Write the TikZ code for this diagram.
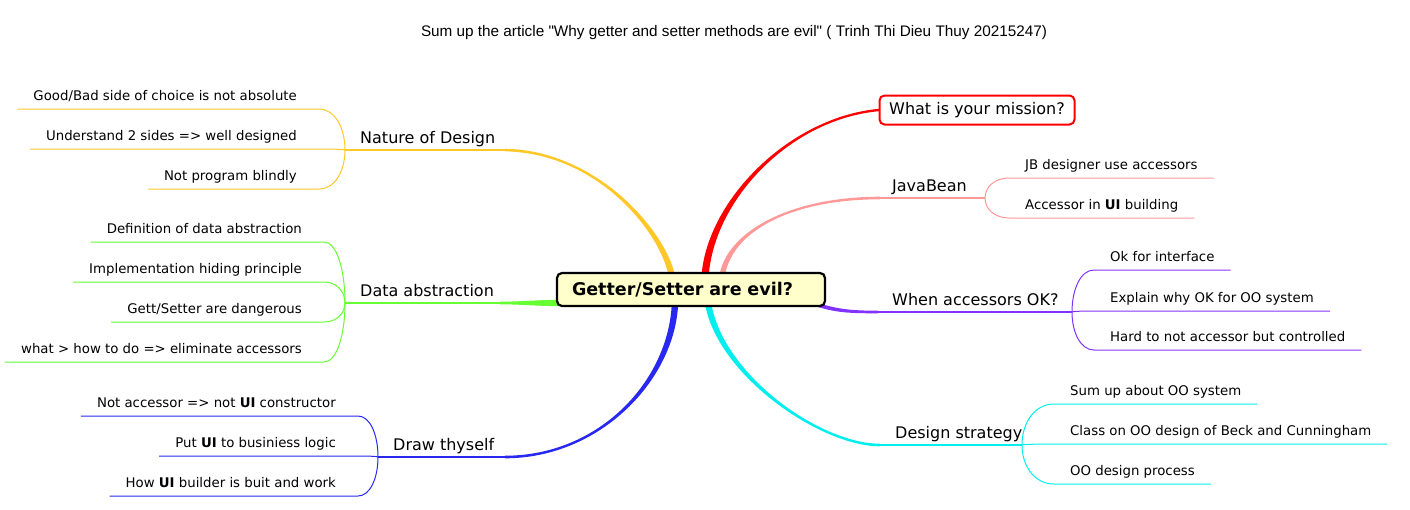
\documentclass[tikz,border=0pt]{standalone}
\usepackage{fontspec}
\setmainfont{DejaVu Sans}
\newfontfamily\titlefont[Ligatures=TeXOff]{Liberation Sans}
\usetikzlibrary{calc}
\definecolor{cY}{RGB}{255,200,40}
\definecolor{cR}{RGB}{255,0,0}
\definecolor{cP}{RGB}{255,153,153}
\definecolor{cV}{RGB}{130,50,255}
\definecolor{cC}{RGB}{0,238,238}
\definecolor{cG}{RGB}{102,255,51}
\definecolor{cB}{RGB}{40,40,240}
\definecolor{cbox}{RGB}{255,255,204}
% tapered main branch: colour, start, c1, c2, end, start offset, end offset
\newcommand\taperbranch[7]{%
  \fill[#1] ($(#2)+(#6)$) .. controls ($(#3)+(#6)$) and ($(#4)+(#7)$) .. ($(#5)+(#7)$)
    -- ($(#5)-(#7)$) .. controls ($(#4)-(#7)$) and ($(#3)-(#6)$) .. ($(#2)-(#6)$) -- cycle;}
% twig from fork to a left child / right child
\newcommand\twigL[3]{%
  \draw[twig,#1] (#2) .. controls ($(#2)!0.55!(#2|-#3.south east)$) and ($($(#3.south east)+(6,0)$)!0.6!(#2|-#3.south east)$) .. ($(#3.south east)+(6,0)$) -- (#3.south west);}
\newcommand\twigR[3]{%
  \draw[twig,#1] (#2) .. controls ($(#2)!0.55!(#2|-#3.south west)$) and ($(#3.south west)!0.6!(#2|-#3.south west)$) .. (#3.south west) -- (#3.south east);}
\begin{document}
\begin{tikzpicture}[x=1pt,y=-1pt,
  leaf/.style={font=\fontsize{13.3}{15}\selectfont, inner xsep=16pt, inner ysep=0pt, text depth=8.5pt, text height=10pt},
  leafL/.style={leaf, anchor=south east},
  leafR/.style={leaf, anchor=south west},
  brlabel/.style={font=\fontsize{16}{19}\selectfont, inner sep=0pt, anchor=base west},
  twig/.style={line width=1pt},
  stem/.style={line width=2.6pt},
]
\useasboundingbox (0,0) rectangle (1410,509);
\node[font=\titlefont\fontsize{15.3}{18}\selectfont, anchor=base, inner sep=0pt] (title) at (734,36)
  {Sum up the article "Why getter and setter methods are evil" ( Trinh Thi Dieu Thuy 20215247)};

% coordinates of the branches
\coordinate (yS) at (672,277); \coordinate (yA) at (665,235); \coordinate (yB) at (600,152); \coordinate (yE) at (505,150); \coordinate (yF) at (345,150);
\coordinate (rS) at (705,277); \coordinate (rA) at (710,200); \coordinate (rB) at (790,118); \coordinate (rE) at (879,110);
\coordinate (pS) at (722,277); \coordinate (pA) at (728,232); \coordinate (pB) at (790,198); \coordinate (pE) at (880,198); \coordinate (pF) at (985,198);
\coordinate (gS) at (560,303); \coordinate (gA) at (540,303); \coordinate (gB) at (520,303); \coordinate (gE) at (500,303); \coordinate (gF) at (345,303);
\coordinate (vS) at (812,303); \coordinate (vA) at (835,311); \coordinate (vB) at (850,312); \coordinate (vE) at (878,312); \coordinate (vF) at (1072,312);
\coordinate (bS) at (675,303); \coordinate (bA) at (672,380); \coordinate (bB) at (600,457); \coordinate (bE) at (505,457); \coordinate (bF) at (378,457);
\coordinate (cS) at (708,303); \coordinate (cA) at (720,375); \coordinate (cB) at (820,445); \coordinate (cE) at (880,445); \coordinate (cF) at (1022,445);

\taperbranch{cY}{yS}{yA}{yB}{yE}{3.2,0}{0,-1.3}
\taperbranch{cR}{rS}{rA}{rB}{rE}{3.6,0}{0,1.2}
\taperbranch{cP}{pS}{pA}{pB}{pE}{2.8,0}{0,1.3}
\taperbranch{cG}{gS}{gA}{gB}{gE}{0,3.2}{0,1.3}
\taperbranch{cV}{vS}{vA}{vB}{vE}{0,2.0}{0,1.3}
\taperbranch{cB}{bS}{bA}{bB}{bE}{3.2,0}{0,1.3}
\taperbranch{cC}{cS}{cA}{cB}{cE}{3.2,0}{0,-1.3}

\draw[stem,cY] (yE) -- (yF);
\draw[stem,cP] (pE) -- (pF);
\draw[stem,cG] (gE) -- (gF);
\draw[stem,cV] (vE) -- (vF);
\draw[stem,cB] (bE) -- (bF);
\draw[stem,cC] (cE) -- (cF);

% centre
\node[draw=black, line width=2.2pt, rounded corners=5pt, fill=cbox, minimum height=33pt,
  text width=238pt, inner xsep=15pt, align=left, font=\bfseries\fontsize{17.5}{20}\selectfont]
  (center) at (691,289.5) {Getter/Setter are evil?};

% mission box
\node[draw=cR, line width=2pt, rounded corners=5pt, fill=white, minimum width=195pt, minimum height=29pt,
  inner sep=0pt, font=\fontsize{16}{19}\selectfont] (what) at (977,110) {What is your mission?};

% branch labels
\node[brlabel] (nat) at (360,143) {Nature of Design};
\node[brlabel] (dat) at (360,296) {Data abstraction};
\node[brlabel] (drw) at (393,450) {Draw thyself};
\node[brlabel] (jav) at (892,191) {JavaBean};
\node[brlabel] (whn) at (892,305) {When accessors OK?};
\node[brlabel] (dsg) at (895,438) {Design strategy};

% leaves
\node[leafL] (n1) at (313,109) {Good/Bad side of choice is not absolute};
\node[leafL] (n2) at (313,149) {Understand 2 sides => well designed};
\node[leafL] (n3) at (313,189) {Not program blindly};
\node[leafL] (d1) at (318,242) {Definition of data abstraction};
\node[leafL] (d2) at (318,282) {Implementation hiding principle};
\node[leafL] (d3) at (318,322) {Gett/Setter are dangerous};
\node[leafL] (d4) at (318,362) {what > how to do => eliminate accessors};
\node[leafL] (w1) at (352,416) {Not accessor => not \textbf{UI} constructor};
\node[leafL] (w2) at (352,456) {Put \textbf{UI} to businiess logic};
\node[leafL] (w3) at (352,496) {How \textbf{UI} builder is buit and work};
\node[leafR] (j1) at (1009,178) {JB designer use accessors};
\node[leafR] (j2) at (1009,218) {Accessor in \textbf{UI} building};
\node[leafR] (o1) at (1094,270) {Ok for interface};
\node[leafR] (o2) at (1094,311) {Explain why OK for OO system};
\node[leafR] (o3) at (1094,350) {Hard to not accessor but controlled};
\node[leafR] (s1) at (1054,404) {Sum up about OO system};
\node[leafR] (s2) at (1054,444) {Class on OO design of Beck and Cunningham};
\node[leafR] (s3) at (1054,484) {OO design process};

\twigL{cY}{yF}{n1} \twigL{cY}{yF}{n2} \twigL{cY}{yF}{n3}
\twigL{cG}{gF}{d1} \twigL{cG}{gF}{d2} \twigL{cG}{gF}{d3} \twigL{cG}{gF}{d4}
\twigL{cB}{bF}{w1} \twigL{cB}{bF}{w2} \twigL{cB}{bF}{w3}
\twigR{cP}{pF}{j1} \twigR{cP}{pF}{j2}
\twigR{cV}{vF}{o1} \twigR{cV}{vF}{o2} \twigR{cV}{vF}{o3}
\twigR{cC}{cF}{s1} \twigR{cC}{cF}{s2} \twigR{cC}{cF}{s3}
\end{tikzpicture}
\end{document}
